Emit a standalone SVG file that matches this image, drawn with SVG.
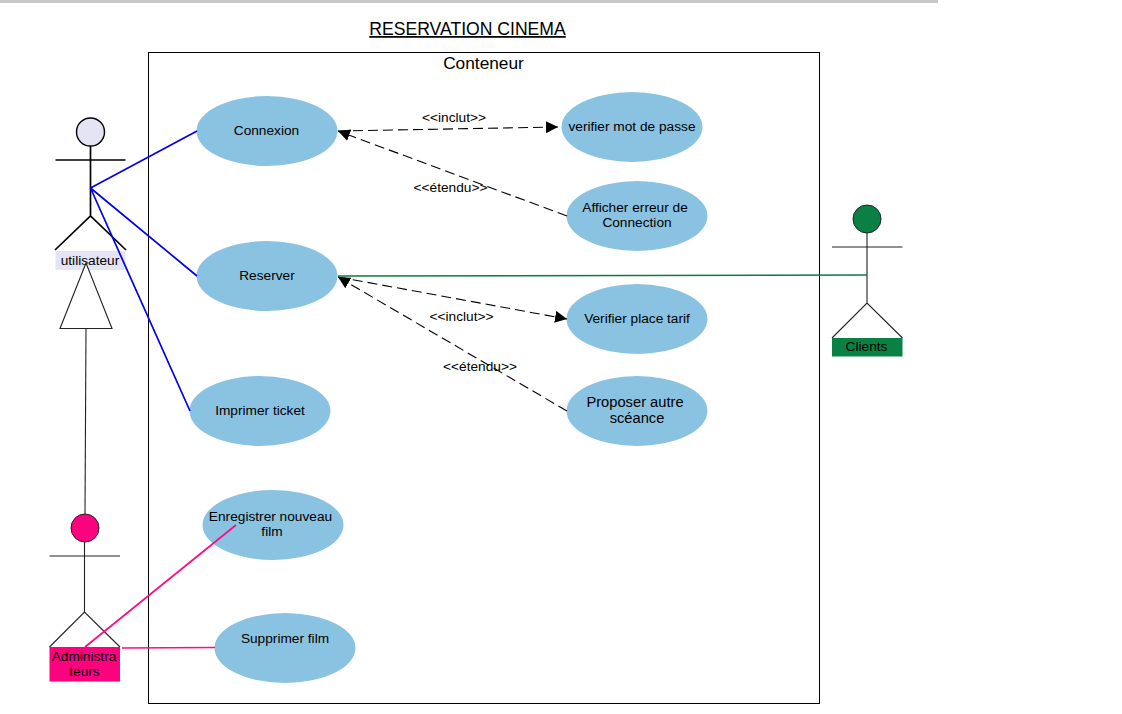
<svg xmlns="http://www.w3.org/2000/svg" width="1122" height="714" viewBox="0 0 1122 714">
<style>
text{font-family:"Liberation Sans",Arial,sans-serif;font-size:13.700px;fill:#000;text-anchor:middle}
.uc{fill:#8ac3e2;stroke:none}
.a{fill:none;stroke:#000;stroke-width:1.700}
.t{fill:none;stroke:#222;stroke-width:1.100}
.d{fill:none;stroke:#000;stroke-width:1.100;stroke-dasharray:10 5}
.b{fill:none;stroke:#0000f0;stroke-width:1.700}
.p{fill:none;stroke:#ff0a85;stroke-width:1.700}
.g{fill:none;stroke:#0a7d40;stroke-width:1.500}
</style>
<defs>
<marker id="ah" viewBox="0 0 12 12" refX="12" refY="6" markerWidth="12" markerHeight="12" markerUnits="userSpaceOnUse" orient="auto-start-reverse"><path d="M0 0L12 6L0 12Z" fill="#000"/></marker>
</defs>
<rect x="0" y="0" width="938" height="3" fill="#c8c8c8"/>
<text x="467.500" y="35" style="font-size:17.600px" text-decoration="underline">RESERVATION CINEMA</text>
<g id="container">
<rect x="148.500" y="52.500" width="671" height="651" fill="none" stroke="#000" stroke-width="1"/>
<text x="483.500" y="69" style="font-size:17.300px">Conteneur</text>
</g>
<g id="uc-connexion"><ellipse class="uc" cx="267" cy="131" rx="70.500" ry="35"/><text x="266.500" y="134.500">Connexion</text></g>
<g id="uc-verifier"><ellipse class="uc" cx="632" cy="127" rx="70.500" ry="35"/><text x="632" y="131">verifier mot de passe</text></g>
<g id="uc-erreur"><ellipse class="uc" cx="637" cy="216" rx="70.500" ry="35"/><text x="635" y="212">Afficher erreur de</text><text x="637" y="227">Connection</text></g>
<g id="uc-reserver"><ellipse class="uc" cx="267" cy="276" rx="70.500" ry="35"/><text x="267" y="279.500">Reserver</text></g>
<g id="uc-place"><ellipse class="uc" cx="637" cy="319" rx="70.500" ry="35"/><text x="637" y="323">Verifier place tarif</text></g>
<g id="uc-proposer"><ellipse class="uc" cx="637" cy="411" rx="70.500" ry="35"/><text x="635" y="407" style="font-size:14.700px">Proposer autre</text><text x="637" y="423" style="font-size:14.700px">scéance</text></g>
<g id="uc-imprimer"><ellipse class="uc" cx="260" cy="411" rx="70.500" ry="35"/><text x="260" y="414.500">Imprimer ticket</text></g>
<g id="uc-enregistrer"><ellipse class="uc" cx="273" cy="525" rx="70.500" ry="35"/><text x="270.500" y="520.500">Enregistrer nouveau</text><text x="272" y="536">film</text></g>
<g id="uc-supprimer"><ellipse class="uc" cx="285" cy="648" rx="70.500" ry="35"/><text x="285" y="643">Supprimer film</text></g>
<g id="actor-utilisateur">
<circle cx="90.500" cy="132" r="14" fill="#e4e4f4" stroke="#000" stroke-width="1.400"/>
<path class="a" d="M90.500 146V216M55.500 160H125.500M55 250L90.500 216L126 250"/>
<rect x="55.500" y="251" width="70" height="19" fill="#e4e4f4"/>
<text x="90" y="264.500">utilisateur</text>
</g>
<g id="actor-admin">
<circle cx="85" cy="528" r="14" fill="#ff007f" stroke="#222" stroke-width="1"/>
<path class="t" d="M84.500 542V612M49.500 556H120M49.500 647L84.500 612L120 647"/>
<rect x="49.500" y="647" width="70.500" height="34.500" fill="#ff007f"/>
<text x="84" y="660.500">Administra</text><text x="84.500" y="675.500">teurs</text>
</g>
<g id="actor-clients">
<circle cx="867" cy="219" r="14" fill="#0a8045" stroke="#222" stroke-width="1"/>
<path class="t" d="M867 233V303M832 247H902.500M832 338L867 303L902.500 338"/>
<rect x="832" y="338" width="70.500" height="18.500" fill="#0a8045"/>
<text x="866.500" y="351">Clients</text>
</g>
<g id="connectors">
<path class="t" d="M86 263L60 328.500H112Z" style="fill:#fff"/>
<path class="t" d="M86 328.500L85 514"/>
<path class="b" d="M90.500 188L197 131M90.500 188L197 276M90.500 188L190 411"/>
<path class="p" d="M85 647L236 525M122 648L215 647.500"/>
<path class="g" d="M338 276L867 275"/>
<path class="d" d="M338 131L558 127" marker-end="url(#ah)"/>
<path class="d" d="M567 216L338 131" marker-end="url(#ah)"/>
<path class="d" d="M338 277L567 319" marker-end="url(#ah)"/>
<path class="d" d="M567 411L338 277" marker-end="url(#ah)"/>
<text x="454" y="121.500">&lt;&lt;inclut&gt;&gt;</text>
<text x="450.500" y="191.500">&lt;&lt;étendu&gt;&gt;</text>
<text x="461.500" y="320.500">&lt;&lt;inclut&gt;&gt;</text>
<text x="480" y="370.500">&lt;&lt;étendu&gt;&gt;</text>
</g>
</svg>
